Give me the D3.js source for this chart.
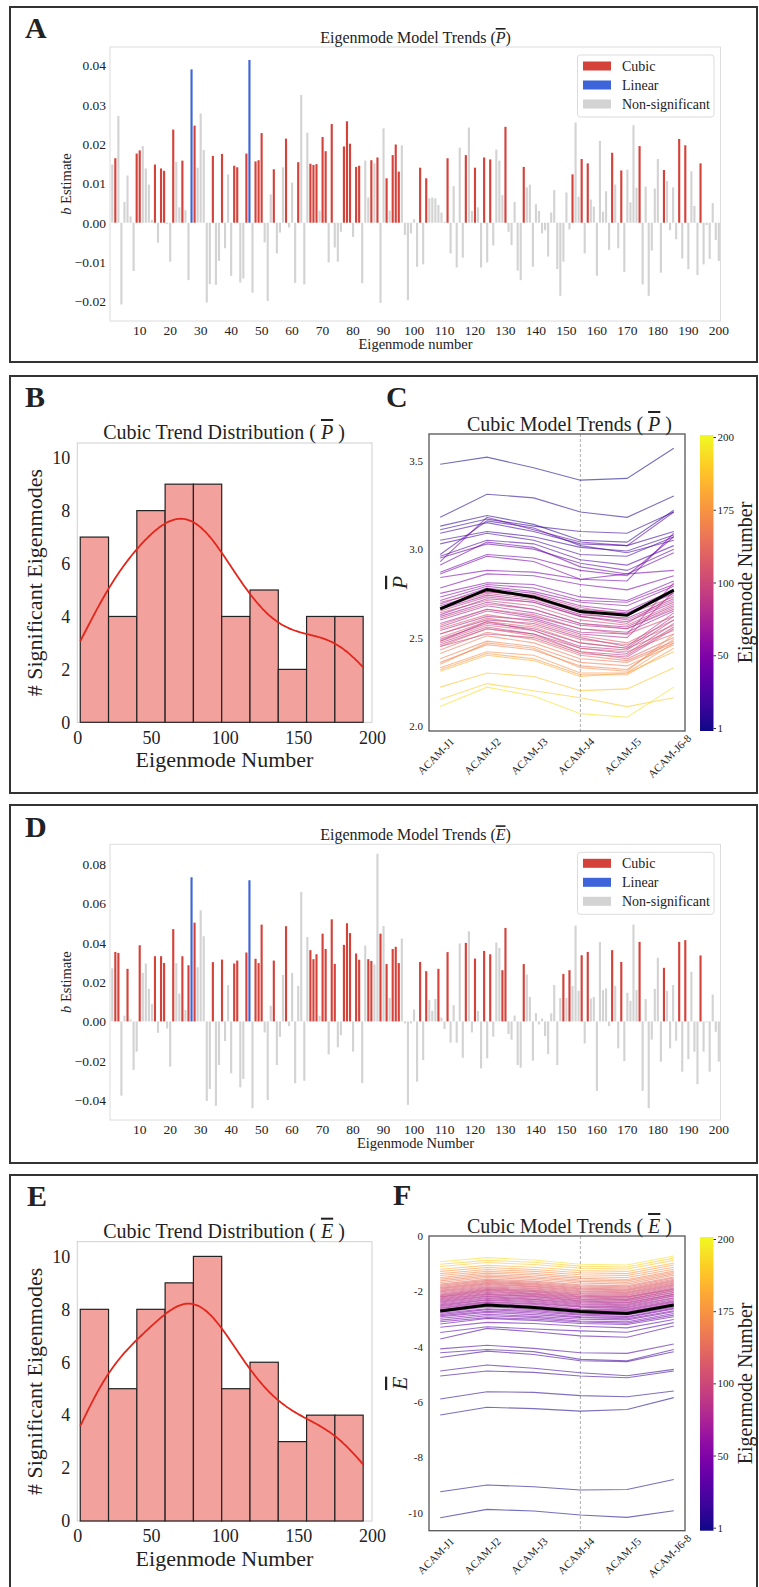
<!DOCTYPE html>
<html>
<head>
<meta charset="utf-8">
<script src="https://cdn.jsdelivr.net/npm/d3@7"></script>
<style>
  body { margin: 0; background: #fff; }
  svg { display: block; font-family: "Liberation Serif", "Times New Roman", serif; }
  .sym { font-style: italic; text-decoration: overline; }
</style>
</head>
<body>
<div id="root"></div>
<script>
// ---- data ----
const eigenmodes = d3.range(1, 201);

const bEstimateP = [
  0.0148, 0.0164, 0.0272, -0.0208, 0.0053, 0.0120, 0.0016, -0.0123, 0.0176, 0.0184,
  0.0195, 0.0138, 0.0097, 0.0007, 0.0148, -0.0051, 0.0138, 0.0132, -0.0003, -0.0099,
  0.0237, 0.0155, 0.0039, 0.0158, 0.0032, -0.0146, 0.0390, 0.0247, 0.0140, 0.0278,
  0.0185, -0.0203, -0.0156, 0.0170, -0.0158, -0.0097, 0.0175, -0.0065, 0.0123, -0.0135,
  0.0145, 0.0141, -0.0152, -0.0142, 0.0176, 0.0414, -0.0178, 0.0156, 0.0159, 0.0228,
  -0.0050, -0.0199, 0.0072, 0.0136, -0.0078, -0.0025, 0.0141, 0.0214, -0.0012, 0.0102,
  -0.0153, 0.0154, 0.0325, -0.0157, 0.0229, 0.0150, 0.0147, 0.0149, 0.0031, 0.0218,
  0.0182, -0.0101, 0.0251, -0.0063, -0.0099, -0.0023, 0.0194, 0.0258, 0.0201, -0.0036,
  0.0142, 0.0145, -0.0154, 0.0158, 0.0064, 0.0159, 0.0151, 0.0166, -0.0204, 0.0240,
  0.0113, 0.0031, 0.0172, 0.0199, 0.0130, 0.0197, -0.0031, -0.0197, -0.0027, 0.0009,
  -0.0112, 0.0140, -0.0106, 0.0113, 0.0062, 0.0064, 0.0062, 0.0045, 0.0026, 0.0003,
  0.0164, -0.0078, 0.0093, -0.0114, 0.0191, -0.0089, 0.0172, 0.0242, 0.0030, 0.0140,
  0.0039, -0.0114, 0.0166, -0.0101, 0.0161, -0.0058, 0.0186, 0.0158, 0.0070, 0.0244,
  -0.0023, -0.0057, 0.0053, -0.0122, -0.0146, 0.0142, 0.0090, 0.0097, -0.0112, 0.0047,
  0.0030, -0.0027, -0.0019, -0.0086, 0.0026, 0.0083, -0.0118, -0.0186, -0.0099, 0.0077,
  -0.0017, 0.0123, 0.0255, 0.0066, 0.0162, -0.0078, 0.0151, 0.0059, 0.0041, -0.0135,
  0.0208, 0.0028, 0.0080, -0.0069, 0.0178, 0.0097, -0.0065, 0.0133, -0.0125, 0.0135,
  0.0052, 0.0248, 0.0089, 0.0195, -0.0157, 0.0092, -0.0186, -0.0071, 0.0087, 0.0162,
  -0.0127, 0.0134, 0.0106, -0.0019, 0.0090, -0.0042, 0.0213, -0.0091, 0.0197, -0.0118,
  0.0131, 0.0043, -0.0133, 0.0151, -0.0106, -0.0006, -0.0092, 0.0050, -0.0044, -0.0097
];
const cubicP = [2, 9, 10, 15, 17, 18, 21, 24, 28, 34, 37, 41, 42, 45, 48, 49, 50, 54, 58, 62,
  66, 67, 68, 70, 71, 73, 77, 78, 79, 81, 82, 86, 88, 91, 93, 94, 95, 102, 104, 111,
  117, 120, 123, 125, 130, 136, 152, 155, 157, 165, 168, 174, 182, 187, 189, 194];
const linearP = [27, 46];

const bEstimateE = [
  0.0270, 0.0354, 0.0349, -0.0378, 0.0029, 0.0268, 0.0010, -0.0247, -0.0154, 0.0388,
  0.0247, 0.0295, 0.0166, 0.0088, 0.0332, -0.0058, 0.0332, 0.0298, -0.0036, -0.0230,
  0.0470, 0.0297, 0.0142, 0.0332, 0.0058, 0.0286, 0.0734, 0.0503, 0.0276, 0.0566,
  0.0434, -0.0405, -0.0344, 0.0302, -0.0430, -0.0222, 0.0315, -0.0100, 0.0185, -0.0264,
  0.0295, 0.0310, -0.0336, -0.0293, 0.0351, 0.0719, -0.0442, 0.0319, 0.0297, 0.0493,
  -0.0056, -0.0400, 0.0080, 0.0310, -0.0222, -0.0078, 0.0237, 0.0485, -0.0024, 0.0247,
  -0.0315, 0.0181, 0.0659, -0.0302, 0.0430, 0.0363, 0.0317, 0.0342, 0.0029, 0.0447,
  0.0369, -0.0168, 0.0520, 0.0293, -0.0132, -0.0070, 0.0390, 0.0500, 0.0450, -0.0154,
  0.0346, 0.0314, -0.0314, 0.0386, 0.0317, 0.0308, 0.0290, 0.0854, 0.0447, 0.0486,
  0.0292, 0.0119, 0.0369, 0.0380, 0.0297, 0.0422, -0.0010, -0.0425, -0.0010, 0.0061,
  -0.0307, 0.0303, -0.0197, 0.0256, 0.0110, 0.0054, 0.0114, 0.0268, 0.0020, -0.0039,
  0.0353, -0.0108, 0.0083, -0.0108, 0.0397, -0.0185, 0.0400, 0.0459, -0.0056, 0.0320,
  0.0053, -0.0239, 0.0359, -0.0188, 0.0342, -0.0078, 0.0402, 0.0375, 0.0261, 0.0476,
  -0.0064, -0.0093, 0.0030, -0.0222, -0.0236, 0.0292, 0.0239, 0.0125, -0.0200, 0.0042,
  -0.0015, 0.0015, -0.0075, -0.0166, 0.0041, 0.0185, -0.0222, 0.0120, 0.0242, 0.0119,
  0.0261, 0.0180, 0.0488, 0.0156, 0.0337, -0.0112, 0.0354, 0.0117, 0.0125, -0.0354,
  0.0405, 0.0159, 0.0168, -0.0024, 0.0363, 0.0181, -0.0137, 0.0303, -0.0202, 0.0146,
  0.0105, 0.0493, 0.0159, 0.0405, -0.0354, 0.0114, -0.0442, -0.0092, 0.0166, 0.0324,
  -0.0205, 0.0273, 0.0156, -0.0137, 0.0185, -0.0098, 0.0405, -0.0256, 0.0414, -0.0192,
  0.0253, -0.0154, -0.0320, 0.0336, -0.0154, -0.0005, -0.0256, 0.0137, -0.0053, -0.0205
];
const cubicE = [2, 3, 6, 10, 15, 17, 18, 21, 24, 26, 28, 34, 37, 41, 42, 45, 48, 49, 50, 54,
  58, 66, 67, 68, 70, 71, 73, 74, 77, 78, 79, 81, 82, 85, 86, 89, 91, 93, 94, 95,
  102, 104, 108, 111, 117, 120, 123, 125, 129, 130, 136, 149, 151, 155, 157, 165, 168, 174, 182, 187,
  189, 194];
const linearE = [27, 46];

const sessions = ["ACAM-J1", "ACAM-J2", "ACAM-J3", "ACAM-J4", "ACAM-J5", "ACAM-J6-8"];

// [eigenmode, values per session]
const trendsP = [
  [2, [3.48, 3.52, 3.46, 3.39, 3.40, 3.57]], [9, [3.18, 3.31, 3.29, 3.21, 3.18, 3.30]],
  [10, [3.13, 3.19, 3.14, 3.05, 3.04, 3.22]], [15, [3.11, 3.17, 3.13, 3.10, 3.09, 3.21]],
  [17, [3.09, 3.15, 3.10, 3.03, 3.02, 3.10]], [18, [3.05, 3.10, 3.07, 3.01, 2.99, 3.08]],
  [21, [3.03, 3.09, 3.05, 2.97, 2.96, 3.07]], [24, [2.97, 3.16, 3.12, 3.02, 2.98, 3.05]],
  [28, [2.96, 3.05, 3.03, 2.94, 2.91, 3.02]], [34, [2.95, 3.03, 3.00, 2.92, 2.88, 3.00]],
  [37, [2.93, 3.18, 3.11, 3.04, 3.02, 3.21]], [41, [2.91, 3.04, 3.01, 2.90, 2.86, 2.98]],
  [42, [2.87, 2.97, 2.95, 2.88, 2.85, 3.07]], [45, [2.86, 2.96, 2.93, 2.83, 2.82, 3.09]],
  [48, [2.84, 2.88, 2.87, 2.83, 2.86, 2.88]], [49, [2.78, 2.86, 2.85, 2.80, 2.77, 2.85]],
  [50, [2.75, 2.81, 2.80, 2.73, 2.71, 2.82]], [54, [2.73, 2.80, 2.78, 2.71, 2.70, 2.80]],
  [58, [2.71, 2.79, 2.76, 2.70, 2.68, 2.79]], [62, [2.69, 2.78, 2.75, 2.68, 2.65, 2.77]],
  [66, [2.68, 2.76, 2.73, 2.66, 2.64, 2.75]], [67, [2.66, 2.74, 2.71, 2.63, 2.61, 2.72]],
  [68, [2.63, 2.72, 2.70, 2.62, 2.59, 2.70]], [70, [2.62, 2.70, 2.66, 2.58, 2.56, 2.68]],
  [71, [2.60, 2.68, 2.64, 2.57, 2.55, 2.66]], [73, [2.58, 2.66, 2.62, 2.55, 2.53, 2.65]],
  [77, [2.56, 2.65, 2.61, 2.53, 2.52, 2.81]], [78, [2.54, 2.62, 2.60, 2.52, 2.50, 2.76]],
  [79, [2.52, 2.60, 2.58, 2.50, 2.45, 2.64]], [81, [2.49, 2.58, 2.55, 2.47, 2.44, 2.62]],
  [82, [2.48, 2.59, 2.54, 2.45, 2.43, 2.60]], [86, [2.47, 2.56, 2.52, 2.44, 2.41, 2.58]],
  [88, [2.46, 2.55, 2.52, 2.42, 2.40, 2.56]], [91, [2.45, 2.52, 2.50, 2.41, 2.39, 2.55]],
  [93, [2.65, 2.73, 2.70, 2.62, 2.58, 2.74]], [94, [2.67, 2.75, 2.72, 2.64, 2.60, 2.71]],
  [95, [2.70, 2.76, 2.74, 2.67, 2.63, 2.73]], [102, [2.64, 2.71, 2.68, 2.60, 2.57, 2.69]],
  [104, [2.61, 2.69, 2.66, 2.58, 2.55, 2.67]], [111, [2.57, 2.66, 2.63, 2.55, 2.52, 2.62]],
  [117, [2.55, 2.63, 2.59, 2.51, 2.47, 2.60]], [120, [2.52, 2.61, 2.57, 2.49, 2.46, 2.57]],
  [123, [2.50, 2.59, 2.56, 2.47, 2.44, 2.54]], [125, [2.48, 2.57, 2.54, 2.44, 2.42, 2.52]],
  [130, [2.45, 2.55, 2.51, 2.42, 2.38, 2.50]], [136, [2.43, 2.53, 2.49, 2.40, 2.37, 2.48]],
  [152, [2.41, 2.51, 2.47, 2.38, 2.36, 2.47]], [155, [2.38, 2.48, 2.45, 2.36, 2.34, 2.46]],
  [157, [2.36, 2.46, 2.43, 2.34, 2.32, 2.49]], [165, [2.35, 2.47, 2.44, 2.33, 2.31, 2.52]],
  [168, [2.33, 2.42, 2.40, 2.30, 2.30, 2.47]], [174, [2.32, 2.41, 2.38, 2.29, 2.29, 2.44]],
  [182, [2.31, 2.40, 2.37, 2.28, 2.30, 2.42]], [187, [2.22, 2.30, 2.28, 2.20, 2.21, 2.33]],
  [189, [2.15, 2.24, 2.20, 2.16, 2.11, 2.16]], [194, [2.11, 2.22, 2.17, 2.07, 2.05, 2.22]]
];
const meanP = [2.662, 2.772, 2.73, 2.647, 2.626, 2.768];

const trendsE = [
  [2, [-10.18, -9.88, -9.94, -10.08, -10.17, -9.93]], [3, [-9.24, -9.00, -9.06, -9.18, -9.16, -8.80]],
  [6, [-6.47, -6.19, -6.24, -6.33, -6.27, -5.84]], [10, [-5.89, -5.63, -5.65, -5.77, -5.81, -5.60]],
  [15, [-5.06, -4.88, -4.93, -5.06, -5.12, -4.88]], [17, [-4.88, -4.66, -4.78, -4.94, -5.05, -4.82]],
  [18, [-4.39, -4.16, -4.28, -4.51, -4.54, -4.18]], [21, [-4.22, -4.10, -4.18, -4.46, -4.51, -4.10]],
  [24, [-4.08, -3.95, -4.06, -4.22, -4.24, -3.90]], [26, [-3.72, -3.34, -3.46, -3.61, -3.66, -3.25]],
  [28, [-3.49, -3.28, -3.36, -3.43, -3.48, -3.13]], [34, [-3.30, -3.12, -3.16, -3.26, -3.32, -3.02]],
  [37, [-3.18, -2.98, -3.05, -3.16, -3.20, -2.92]], [41, [-3.10, -2.95, -3.00, -3.11, -3.15, -2.86]],
  [42, [-3.04, -2.88, -2.94, -3.07, -3.10, -2.80]], [45, [-2.97, -2.83, -2.90, -3.01, -3.03, -2.74]],
  [48, [-2.92, -2.76, -2.84, -2.95, -2.99, -2.70]], [49, [-2.88, -2.72, -2.78, -2.92, -2.94, -2.64]],
  [50, [-2.84, -2.66, -2.74, -2.86, -2.91, -2.61]], [54, [-2.79, -2.63, -2.69, -2.83, -2.85, -2.57]],
  [58, [-2.75, -2.56, -2.65, -2.79, -2.83, -2.52]], [66, [-2.69, -2.51, -2.57, -2.72, -2.76, -2.48]],
  [67, [-2.66, -2.48, -2.55, -2.68, -2.73, -2.44]], [68, [-2.62, -2.43, -2.52, -2.66, -2.69, -2.40]],
  [70, [-2.59, -2.40, -2.47, -2.63, -2.66, -2.37]], [71, [-2.55, -2.37, -2.44, -2.57, -2.63, -2.34]],
  [73, [-2.52, -2.32, -2.41, -2.55, -2.59, -2.30]], [74, [-2.49, -2.30, -2.37, -2.52, -2.56, -2.25]],
  [77, [-2.46, -2.26, -2.34, -2.48, -2.52, -2.23]], [78, [-2.42, -2.23, -2.30, -2.45, -2.49, -2.18]],
  [79, [-2.39, -2.19, -2.28, -2.41, -2.46, -2.16]], [81, [-2.36, -2.17, -2.24, -2.38, -2.42, -2.12]],
  [82, [-2.33, -2.13, -2.20, -2.35, -2.40, -2.10]], [85, [-2.30, -2.10, -2.18, -2.33, -2.36, -2.05]],
  [86, [-2.27, -2.08, -2.15, -2.29, -2.33, -2.03]], [89, [-2.24, -2.04, -2.12, -2.27, -2.30, -1.99]],
  [91, [-2.21, -2.01, -2.09, -2.23, -2.28, -1.97]], [93, [-2.19, -1.98, -2.07, -2.20, -2.24, -1.93]],
  [94, [-2.16, -1.95, -2.03, -2.18, -2.21, -1.91]], [95, [-2.13, -1.93, -2.00, -2.14, -2.19, -1.88]],
  [102, [-2.10, -1.90, -1.97, -2.12, -2.15, -1.84]], [104, [-2.06, -1.87, -1.95, -2.08, -2.12, -1.80]],
  [108, [-2.02, -1.84, -1.91, -2.05, -2.08, -1.77]], [111, [-1.99, -1.80, -1.88, -2.01, -2.05, -1.74]],
  [117, [-1.96, -1.76, -1.84, -1.98, -2.02, -1.70]], [120, [-1.92, -1.73, -1.81, -1.94, -1.98, -1.67]],
  [123, [-1.89, -1.70, -1.77, -1.91, -1.95, -1.63]], [125, [-1.86, -1.67, -1.74, -1.88, -1.92, -1.60]],
  [129, [-1.82, -1.63, -1.71, -1.84, -1.88, -1.56]], [130, [-1.78, -1.60, -1.67, -1.80, -1.84, -1.52]],
  [136, [-1.74, -1.56, -1.63, -1.76, -1.80, -1.48]], [149, [-1.68, -1.50, -1.57, -1.70, -1.74, -1.42]],
  [151, [-1.62, -1.45, -1.52, -1.64, -1.68, -1.37]], [155, [-1.56, -1.40, -1.47, -1.59, -1.62, -1.32]],
  [157, [-1.50, -1.34, -1.41, -1.53, -1.57, -1.27]], [165, [-1.43, -1.28, -1.35, -1.47, -1.50, -1.20]],
  [168, [-1.36, -1.21, -1.28, -1.40, -1.43, -1.13]], [174, [-1.28, -1.14, -1.21, -1.33, -1.36, -1.05]],
  [182, [-1.20, -1.06, -1.13, -1.25, -1.28, -0.98]], [187, [-1.10, -0.96, -1.03, -1.16, -1.19, -0.88]],
  [189, [-1.02, -0.88, -0.95, -1.09, -1.12, -0.80]], [194, [-0.93, -0.78, -0.87, -1.02, -1.05, -0.72]]
];
const meanE = [-2.71, -2.49, -2.58, -2.73, -2.80, -2.49];

const colorbarTicks = [1, 50, 100, 175, 200];
const barTicks = d3.range(10, 201, 10);
const bTicksP = [-0.02, -0.01, 0, 0.01, 0.02, 0.03, 0.04];
const bTicksE = [-0.04, -0.02, 0, 0.02, 0.04, 0.06, 0.08];
const histXTicks = [0, 50, 100, 150, 200];
const histYTicks = [0, 2, 4, 6, 8, 10];
const pTicks = [2.0, 2.5, 3.0, 3.5];
const eTicks = [0, -2, -4, -6, -8, -10];

// ---- setup ----
const width = 759;
const height = 1587;
const serif = '"Liberation Serif", "Times New Roman", serif';
const red = "#d4423a";
const blue = "#3d64d8";
const grey = "#d3d3d3";

const svg = d3.select("#root").append("svg")
  .attr("width", width).attr("height", height)
  .attr("viewBox", [0, 0, width, height]);

svg.append("rect").attr("width", width).attr("height", height).attr("fill", "#fff");

// panel frames
[[7, 362], [376, 793], [805, 1163], [1175, 1600]].forEach(([t, b]) => {
  svg.append("rect")
    .attr("x", 10).attr("y", t)
    .attr("width", 747).attr("height", b - t)
    .attr("fill", "none").attr("stroke", "#333").attr("stroke-width", 2);
});

// panel letters
[["A", 25, 38], ["B", 25, 407], ["C", 386, 407], ["D", 25, 837], ["E", 27, 1206], ["F", 393, 1205]]
  .forEach(([t, x, y]) => {
    svg.append("text").text(t).attr("x", x).attr("y", y)
      .attr("font-size", 30).attr("font-weight", "bold").attr("fill", "#222");
  });

// text with an overlined italic symbol
function symText(g, x, y, size, before, sym, after) {
  const t = g.append("text").attr("x", x).attr("y", y)
    .attr("font-size", size).attr("text-anchor", "middle").attr("fill", "#222");
  t.append("tspan").text(before);
  t.append("tspan").attr("class", "sym").text(sym);
  t.append("tspan").text(after);
  return t;
}

function styleAxis(a, size) {
  a.attr("font-family", serif).attr("font-size", size);
  a.select(".domain").remove();
  a.selectAll("text").attr("fill", "#222");
}

// ---- bar panels (A, D) ----
function barPanel(top, bottom, values, cubic, linear, yDomain, yTicks, sym, xLabel) {
  const g = svg.append("g");
  const x = d3.scaleBand().domain(eigenmodes).range([110.3, 720.8]).padding(0.3);
  const y = d3.scaleLinear().domain(yDomain).range([bottom, top]);

  g.append("rect")
    .attr("x", 110).attr("y", top).attr("width", 610.5).attr("height", bottom - top)
    .attr("fill", "none").attr("stroke", "#dcdcdc");

  const type = (i) => cubic.includes(i) ? "cubic" : linear.includes(i) ? "linear" : "ns";
  const fill = { cubic: red, linear: blue, ns: grey };

  g.append("g").selectAll("rect")
    .data(eigenmodes)
    .join("rect")
    .attr("x", (d) => x(d))
    .attr("width", x.bandwidth())
    .attr("y", (d) => y(Math.max(0, values[d - 1])))
    .attr("height", (d) => Math.abs(y(values[d - 1]) - y(0)))
    .attr("fill", (d) => fill[type(d)]);

  g.append("g").attr("transform", `translate(110,0)`)
    .call(d3.axisLeft(y).tickValues(yTicks).tickFormat(d3.format(".2f")).tickSize(0).tickPadding(4))
    .call((a) => styleAxis(a, 13.5));

  g.append("g").attr("transform", `translate(0,${bottom})`)
    .call(d3.axisBottom(x).tickValues(barTicks).tickSize(0).tickPadding(4.5))
    .call((a) => styleAxis(a, 13.5));

  symText(g, 415.5, top - 4, 16, "Eigenmode Model Trends (", sym, ")");

  g.append("text").text(xLabel)
    .attr("x", 415.5).attr("y", bottom + 28)
    .attr("text-anchor", "middle").attr("font-size", 14.5).attr("fill", "#222");

  const yl = g.append("text")
    .attr("transform", `translate(71,${(top + bottom) / 2}) rotate(-90)`)
    .attr("text-anchor", "middle").attr("font-size", 14.5).attr("fill", "#222");
  yl.append("tspan").attr("font-style", "italic").text("b");
  yl.append("tspan").text(" Estimate");

  // legend
  const items = [["Cubic", red], ["Linear", blue], ["Non-significant", grey]];
  const lg = g.append("g").attr("transform", `translate(577.5,${top + 8})`);
  lg.append("rect").attr("width", 136.5).attr("height", 62).attr("rx", 3)
    .attr("fill", "#fff").attr("stroke", "#dcdcdc");
  const row = lg.selectAll("g").data(items).join("g")
    .attr("transform", (d, i) => `translate(0,${11 + i * 19})`);
  row.append("rect").attr("x", 5.5).attr("y", -4.5).attr("width", 28).attr("height", 9)
    .attr("fill", (d) => d[1]);
  row.append("text").text((d) => d[0]).attr("x", 44.5).attr("y", 5)
    .attr("font-size", 14).attr("fill", "#222");
}

barPanel(47, 321, bEstimateP, cubicP, linearP, [-0.025, 0.0447], bTicksP, "P", "Eigenmode number");
barPanel(844.3, 1120, bEstimateE, cubicE, linearE, [-0.0502, 0.0902], bTicksE, "E", "Eigenmode Number");

// ---- histogram panels (B, E) ----
function histPanel(top, bottom, modes, sym) {
  const g = svg.append("g");
  const x = d3.scaleLinear().domain([0, 200]).range([77.3, 372]);
  const y = d3.scaleLinear().domain([0, 10]).range([bottom, bottom - 264.6 * (bottom - top) / 279.3]);
  y.domain([0, 10 * (bottom - top) / (bottom - y(10))]).range([bottom, top]);

  const [lo, hi] = d3.extent(modes);
  const thresholds = d3.range(1, 10).map((i) => lo + (i * (hi - lo)) / 10);
  const bins = d3.bin().domain([lo, hi]).thresholds(thresholds)(modes);
  const binWidth = (hi - lo) / 10;

  g.append("rect")
    .attr("x", 77.3).attr("y", top).attr("width", 294.7).attr("height", bottom - top)
    .attr("fill", "none").attr("stroke", "#d0d0d0");

  g.append("g").selectAll("rect")
    .data(bins)
    .join("rect")
    .attr("x", (d) => x(d.x0))
    .attr("width", (d) => x(d.x1) - x(d.x0))
    .attr("y", (d) => y(d.length))
    .attr("height", (d) => y(0) - y(d.length))
    .attr("fill", "#f3a19d")
    .attr("stroke", "#222")
    .attr("stroke-width", 1.2);

  // gaussian KDE (Scott bandwidth), scaled to counts
  const bw = d3.deviation(modes) * Math.pow(modes.length, -0.2);
  const grid = d3.range(0, 201).map((i) => lo + ((hi - lo) * i) / 200);
  const kde = grid.map((v) => [
    v,
    (d3.sum(modes, (m) => Math.exp(-0.5 * ((v - m) / bw) ** 2)) / (bw * Math.sqrt(2 * Math.PI))) * binWidth
  ]);
  g.append("path")
    .datum(kde)
    .attr("fill", "none")
    .attr("stroke", "#e3261b")
    .attr("stroke-width", 1.8)
    .attr("d", d3.line().x((d) => x(d[0])).y((d) => y(d[1])).curve(d3.curveBasis));

  g.append("g").attr("transform", `translate(77.3,0)`)
    .call(d3.axisLeft(y).tickValues(histYTicks).tickSize(0).tickPadding(7))
    .call((a) => styleAxis(a, 18));

  g.append("g").attr("transform", `translate(0,${bottom})`)
    .call(d3.axisBottom(x).tickValues(histXTicks).tickSize(0).tickPadding(8.5))
    .call((a) => styleAxis(a, 18));

  symText(g, 224, top - 4, 20, "Cubic Trend Distribution ( ", sym, " )");

  g.append("text").text("Eigenmode Number")
    .attr("x", 224.5).attr("y", bottom + 44.5)
    .attr("text-anchor", "middle").attr("font-size", 22).attr("fill", "#222");

  g.append("text").text("# Significant Eigenmodes")
    .attr("transform", `translate(42,${(top + bottom) / 2}) rotate(-90)`)
    .attr("text-anchor", "middle").attr("font-size", 22).attr("fill", "#222");
}

histPanel(443, 722.3, cubicP, "P");
histPanel(1241.7, 1521, cubicE, "E");

// ---- trend line panels (C, F) ----
const colorPos = d3.scaleLinear().domain(colorbarTicks).range([0, 0.25, 0.5, 0.75, 1]).clamp(true);
const modeColor = (m) => d3.interpolatePlasma(colorPos(m));

const defs = svg.append("defs");
const grad = defs.append("linearGradient").attr("id", "plasma")
  .attr("x1", 0).attr("y1", 1).attr("x2", 0).attr("y2", 0);
grad.selectAll("stop").data(d3.range(0, 1.0001, 0.05)).join("stop")
  .attr("offset", (d) => d).attr("stop-color", (d) => d3.interpolatePlasma(d));

function trendPanel(top, bottom, trends, mean, yDomain, yTicks, fmt, sym) {
  const g = svg.append("g");
  const x = d3.scalePoint().domain(sessions).range([429, 685]).padding(0.24);
  const y = d3.scaleLinear().domain(yDomain).range([bottom, top]);
  const line = d3.line().x((d, i) => x(sessions[i])).y((d) => y(d));

  g.append("line")
    .attr("x1", x("ACAM-J4")).attr("x2", x("ACAM-J4"))
    .attr("y1", top).attr("y2", bottom)
    .attr("stroke", "#999").attr("stroke-width", 0.8).attr("stroke-dasharray", "3,2");

  g.append("g").selectAll("path")
    .data(trends)
    .join("path")
    .attr("fill", "none")
    .attr("stroke", (d) => modeColor(d[0]))
    .attr("stroke-opacity", 0.58)
    .attr("stroke-width", 1.1)
    .attr("d", (d) => line(d[1]));

  g.append("path")
    .datum(mean)
    .attr("fill", "none").attr("stroke", "#000").attr("stroke-width", 3)
    .attr("d", line);

  g.append("rect")
    .attr("x", 429).attr("y", top).attr("width", 256).attr("height", bottom - top)
    .attr("fill", "none").attr("stroke", "#555").attr("stroke-width", 1.3);

  g.append("g").attr("transform", `translate(429,0)`)
    .call(d3.axisLeft(y).tickValues(yTicks).tickFormat(fmt).tickSize(0).tickPadding(6))
    .call((a) => styleAxis(a, 11));

  const xa = g.append("g").attr("transform", `translate(0,${bottom})`)
    .call(d3.axisBottom(x).tickSize(0))
    .call((a) => styleAxis(a, 11));
  xa.selectAll("text")
    .attr("y", 0).attr("dy", null)
    .attr("text-anchor", "middle")
    .attr("dominant-baseline", "central")
    .attr("transform", "translate(-5,25) rotate(-45)");

  symText(g, 569.5, top - 3, 20, "Cubic Model Trends ( ", sym, " )");

  const yl = g.append("text")
    .attr("transform", `translate(407,${(top + bottom) / 2}) rotate(-90)`)
    .attr("text-anchor", "middle").attr("font-size", 22).attr("fill", "#222");
  yl.append("tspan").attr("class", "sym").text(sym);

  // colorbar
  g.append("rect")
    .attr("x", 700).attr("y", top + 1).attr("width", 13.5).attr("height", bottom - top - 1)
    .attr("fill", "url(#plasma)");
  const cb = d3.scalePoint().domain(colorbarTicks).range([bottom - 3, top + 3]);
  g.append("g").attr("transform", `translate(713.5,0)`)
    .call(d3.axisRight(cb).tickSize(2.5).tickPadding(1.5))
    .call((a) => {
      styleAxis(a, 11);
      a.selectAll("line").attr("stroke", "#333");
    });

  g.append("text").text("Eigenmode Number")
    .attr("transform", `translate(752,${(top + bottom) / 2}) rotate(-90)`)
    .attr("text-anchor", "middle").attr("font-size", 20).attr("fill", "#222");
}

trendPanel(434, 731, trendsP, meanP, [1.972, 3.651], pTicks, d3.format(".1f"), "P");
trendPanel(1236, 1530.7, trendsE, meanE, [-10.65, 0], eTicks, (d) => String(d), "E");
</script>
</body>
</html>
